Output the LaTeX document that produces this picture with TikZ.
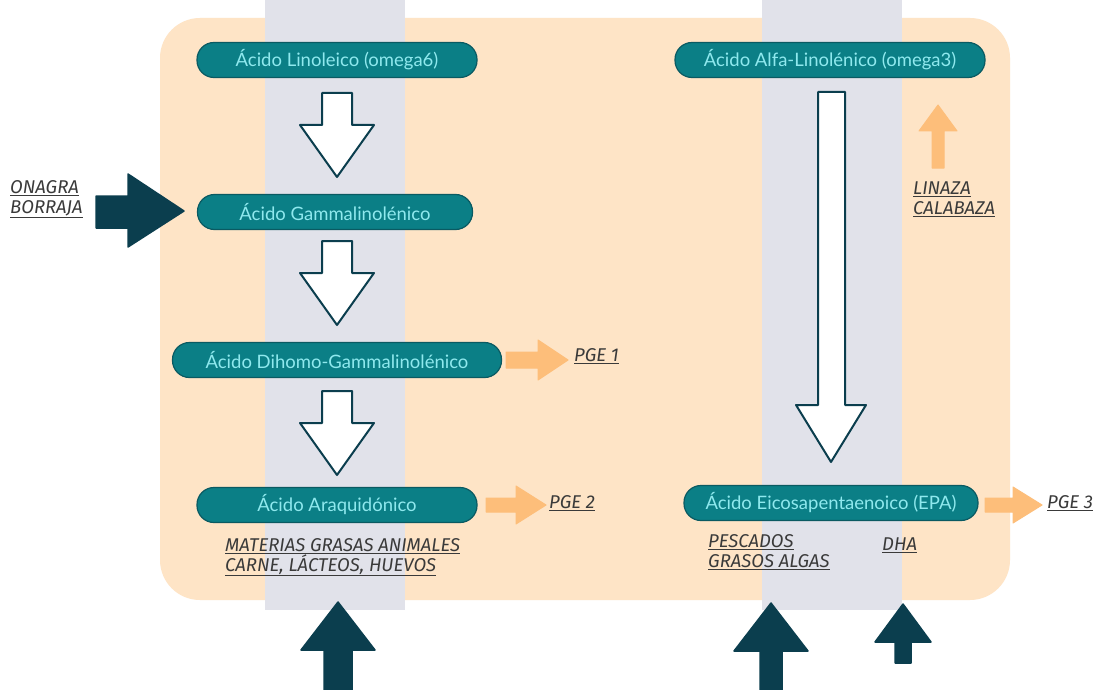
\documentclass[tikz,border=0pt]{standalone}
\usepackage{fontspec}
\setmainfont{Lato}
\newfontfamily\lblfont{Fira Sans}
\definecolor{peach}{HTML}{FEE4C6}
\definecolor{band}{HTML}{E1E2EA}
\definecolor{teal}{HTML}{0B7F86}
\definecolor{tealdark}{HTML}{0A5A62}
\definecolor{tealtext}{HTML}{8FE9EE}
\definecolor{darkarrow}{HTML}{0B3E4E}
\definecolor{orangearrow}{HTML}{FDBE7A}
\definecolor{lbltext}{HTML}{3A3A3A}
\newcommand\mkulab[1]{\underline{#1}}
\begin{document}
\begin{tikzpicture}[x=1pt,y=-1pt,
  pill/.style={draw=tealdark,line width=1.2pt,fill=teal,text=tealtext,rounded corners=17pt,
    minimum height=35pt,inner sep=0pt,font=\fontsize{18.5}{20}\selectfont},
  hollow/.style={draw=darkarrow,fill=white,line width=2pt,line join=round},
  darkfill/.style={fill=darkarrow,draw=darkarrow,line width=1.5pt,line join=round},
  orangefill/.style={fill=orangearrow,draw=orangearrow,line width=1pt,line join=round},
  lbl/.style={font=\lblfont\itshape\fontsize{18.5}{20}\selectfont,text=lbltext,align=left,inner sep=0pt}
]
\useasboundingbox (0,0) rectangle (1100,690);
\fill[white] (0,0) rectangle (1100,690);
% background panel
\fill[peach,rounded corners=40pt] (160,18) rectangle (1010,600);
% grey bands
\fill[band] (265,0) rectangle (405,610);
\fill[band] (762,0) rectangle (902,610);

% pills
\node[pill,minimum width=280pt] (lin) at (337,60) {Ácido Linoleico (omega6)};
\node[pill,minimum width=275pt] (gam) at (335,212) {Ácido Gammalinolénico};
\node[pill,minimum width=329pt] (dih) at (337,360) {Ácido Dihomo-Gammalinolénico};
\node[pill,minimum width=280pt] (ara) at (337,505) {Ácido Araquidónico};
\node[pill,minimum width=310pt] (alf) at (830,60) {Ácido Alfa-Linolénico (omega3)};
\node[pill,minimum width=294pt] (epa) at (831,503) {Ácido Eicosapentaenoico (EPA)};

% hollow down arrows
\foreach \t/\h/\b in {93/125/177, 241/273/325, 391/423/475}{
  \draw[hollow] (322,\t) -- (352,\t) -- (352,\h) -- (374,\h) -- (337,\b) -- (300,\h) -- (322,\h) -- cycle;
}
% long right arrow
\draw[hollow] (818,92) -- (845,92) -- (845,405) -- (866,405) -- (831,462) -- (796,405) -- (818,405) -- cycle;

% ONAGRA arrow
\draw[darkfill] (96,196) -- (128,196) -- (128,174) -- (184,211) -- (128,247) -- (128,228) -- (96,228) -- cycle;
\node[lbl,anchor=north west] (ona) at (10,180) {\mkulab{ONAGRA}\\\mkulab{BORRAJA}};

% orange arrows
\draw[orangefill] (506,352) -- (538,352) -- (538,340) -- (568,360) -- (538,380) -- (538,368) -- (506,368) -- cycle;
\node[lbl,anchor=west] (pge1) at (574,356) {\mkulab{PGE 1}};
\draw[orangefill] (486,498) -- (516,498) -- (516,486) -- (546,505) -- (516,524) -- (516,512) -- (486,512) -- cycle;
\node[lbl,anchor=west] (pge2) at (549,503) {\mkulab{PGE 2}};
\draw[orangefill] (985,498) -- (1013,498) -- (1013,487) -- (1042,505) -- (1013,523) -- (1013,512) -- (985,512) -- cycle;
\node[lbl,anchor=west] (pge3) at (1047,503) {\mkulab{PGE 3}};
% up orange arrow
\draw[orangefill] (932,168) -- (944,168) -- (944,131) -- (957,131) -- (938,105) -- (919,131) -- (932,131) -- cycle;
\node[lbl,anchor=north west] (lin3) at (913,182) {\mkulab{LINAZA}\\\mkulab{CALABAZA}};

% source labels
\node[lbl,anchor=north west] (mat) at (225,538) {\mkulab{MATERIAS GRASAS ANIMALES}\\\mkulab{CARNE, LÁCTEOS, HUEVOS}};
\node[lbl,anchor=north west] (pes) at (708,534) {\mkulab{PESCADOS}\\\mkulab{GRASOS ALGAS}};
\node[lbl,anchor=north west] (dha) at (882,538) {\mkulab{DHA}};

% bottom dark up arrows
\draw[darkfill] (324,690) -- (352,690) -- (352,650) -- (375,650) -- (338,602) -- (301,650) -- (324,650) -- cycle;
\draw[darkfill] (760,690) -- (782,690) -- (782,651) -- (808,651) -- (771,603) -- (734,651) -- (760,651) -- cycle;
\draw[darkfill] (895,663) -- (911,663) -- (911,642) -- (931,642) -- (903,604) -- (875,642) -- (895,642) -- cycle;
\end{tikzpicture}
\end{document}
